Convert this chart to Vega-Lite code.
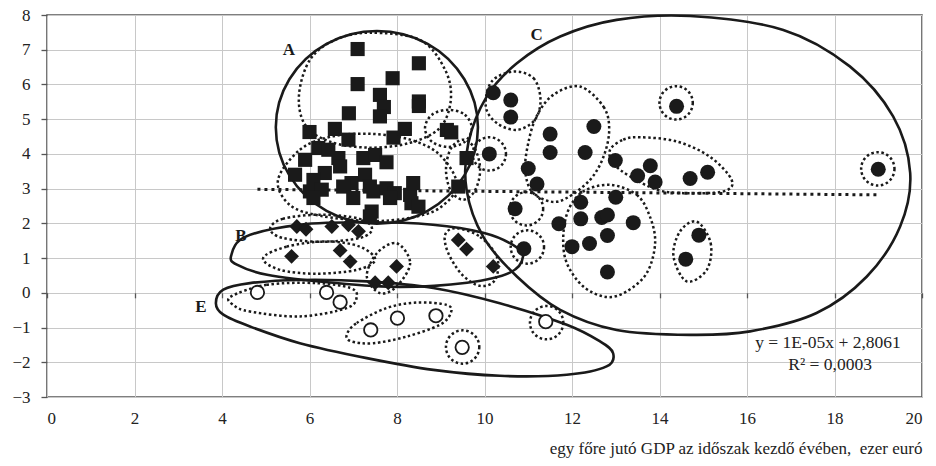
{
"$schema":"https://vega.github.io/schema/vega-lite/v6.json",
"width":875,"height":382,"autosize":{"type":"none"},
"padding":{"left":47,"top":15,"right":14,"bottom":69},
"background":"white",
"config":{"view":{"stroke":"#555","strokeWidth":1.6},"font":"Liberation Serif"},
"datasets":{
"pts":[
{"g":"sq","x":7.10,"y":7.02},{"g":"sq","x":8.50,"y":6.61},{"g":"sq","x":7.90,"y":6.18},{"g":"sq","x":7.10,"y":6.01},{"g":"sq","x":7.61,"y":5.70},{"g":"sq","x":7.70,"y":5.35},{"g":"sq","x":8.50,"y":5.51},{"g":"sq","x":8.50,"y":5.38},{"g":"sq","x":7.61,"y":5.08},{"g":"sq","x":6.90,"y":5.17},{"g":"sq","x":6.00,"y":4.63},{"g":"sq","x":6.58,"y":4.72},{"g":"sq","x":6.89,"y":4.41},{"g":"sq","x":7.92,"y":4.47},{"g":"sq","x":8.18,"y":4.72},{"g":"sq","x":9.14,"y":4.69},{"g":"sq","x":9.24,"y":4.62},
{"g":"sq","x":6.20,"y":4.17},{"g":"sq","x":6.43,"y":4.12},{"g":"sq","x":5.90,"y":3.83},{"g":"sq","x":6.66,"y":3.88},{"g":"sq","x":6.70,"y":3.64},{"g":"sq","x":7.23,"y":3.88},{"g":"sq","x":7.50,"y":3.97},{"g":"sq","x":7.76,"y":3.76},{"g":"sq","x":9.59,"y":3.88},{"g":"sq","x":5.67,"y":3.40},{"g":"sq","x":6.35,"y":3.45},{"g":"sq","x":6.09,"y":3.25},{"g":"sq","x":7.27,"y":3.40},{"g":"sq","x":6.96,"y":3.16},{"g":"sq","x":6.77,"y":3.06},{"g":"sq","x":6.01,"y":2.92},{"g":"sq","x":6.28,"y":2.97},{"g":"sq","x":6.09,"y":2.73},{"g":"sq","x":7.00,"y":2.73},{"g":"sq","x":7.38,"y":3.06},{"g":"sq","x":7.46,"y":2.92},{"g":"sq","x":7.76,"y":3.01},{"g":"sq","x":7.95,"y":2.87},{"g":"sq","x":8.30,"y":2.82},{"g":"sq","x":8.37,"y":3.16},{"g":"sq","x":8.33,"y":2.58},{"g":"sq","x":8.49,"y":2.48},{"g":"sq","x":7.42,"y":2.34},{"g":"sq","x":7.38,"y":2.20},{"g":"sq","x":9.40,"y":3.06},{"g":"sq","x":7.84,"y":2.73},
{"g":"di","x":5.71,"y":1.91},{"g":"di","x":5.92,"y":1.83},{"g":"di","x":6.51,"y":1.91},{"g":"di","x":6.89,"y":1.96},{"g":"di","x":7.12,"y":1.77},{"g":"di","x":5.59,"y":1.05},{"g":"di","x":6.70,"y":1.22},{"g":"di","x":6.93,"y":0.90},{"g":"di","x":7.99,"y":0.76},{"g":"di","x":7.50,"y":0.29},{"g":"di","x":7.80,"y":0.29},{"g":"di","x":9.40,"y":1.52},{"g":"di","x":9.59,"y":1.26},{"g":"di","x":10.20,"y":0.76},
{"g":"ci","x":10.20,"y":5.76},{"g":"ci","x":10.60,"y":5.55},{"g":"ci","x":10.60,"y":5.06},{"g":"ci","x":14.39,"y":5.37},{"g":"ci","x":12.50,"y":4.79},{"g":"ci","x":11.50,"y":4.57},{"g":"ci","x":11.50,"y":4.04},{"g":"ci","x":12.30,"y":4.04},{"g":"ci","x":10.11,"y":4.00},{"g":"ci","x":11.00,"y":3.58},{"g":"ci","x":11.20,"y":3.13},{"g":"ci","x":12.99,"y":3.81},{"g":"ci","x":13.79,"y":3.66},{"g":"ci","x":13.50,"y":3.37},{"g":"ci","x":13.90,"y":3.19},{"g":"ci","x":14.70,"y":3.29},{"g":"ci","x":15.10,"y":3.47},{"g":"ci","x":10.70,"y":2.42},{"g":"ci","x":12.20,"y":2.61},{"g":"ci","x":13.00,"y":2.75},{"g":"ci","x":12.20,"y":2.13},{"g":"ci","x":12.68,"y":2.17},{"g":"ci","x":12.81,"y":2.24},{"g":"ci","x":13.40,"y":2.02},{"g":"ci","x":11.70,"y":1.99},{"g":"ci","x":12.81,"y":1.65},{"g":"ci","x":12.00,"y":1.33},{"g":"ci","x":12.40,"y":1.42},{"g":"ci","x":12.81,"y":0.60},{"g":"ci","x":10.90,"y":1.27},{"g":"ci","x":14.90,"y":1.66},{"g":"ci","x":14.60,"y":0.97},{"g":"ci","x":19.00,"y":3.56},
{"g":"oc","x":4.81,"y":0.01},{"g":"oc","x":6.39,"y":0.01},{"g":"oc","x":6.70,"y":-0.27},{"g":"oc","x":7.40,"y":-1.07},{"g":"oc","x":8.01,"y":-0.73},{"g":"oc","x":8.89,"y":-0.66},{"g":"oc","x":9.49,"y":-1.57},{"g":"oc","x":11.40,"y":-0.83}
],
"rings":[{"x":10.11,"y":4.00},{"x":14.38,"y":5.47},{"x":10.96,"y":2.42},{"x":18.99,"y":3.57},{"x":10.98,"y":1.32},{"x":9.50,"y":-1.56},{"x":11.42,"y":-0.86}],
"trend":[{"x":4.81,"y":2.98},{"x":19.0,"y":2.82}],
"letters":[{"t":"A","x":5.53,"y":6.98},{"t":"B","x":4.43,"y":1.63},{"t":"C","x":11.19,"y":7.43},{"t":"E","x":3.52,"y":-0.42}],
"eq":[{"t":"y = 1E-05x + 2,8061","x":17.85,"y":-1.44},{"t":"R² = 0,0003","x":17.9,"y":-2.07}],
"outlines":[
{"s":"A","t":"solid","i":0,"x":7.54,"y":7.54},{"s":"A","t":"solid","i":1,"x":8.70,"y":7.17},{"s":"A","t":"solid","i":2,"x":9.54,"y":6.15},{"s":"A","t":"solid","i":3,"x":9.85,"y":4.77},{"s":"A","t":"solid","i":4,"x":9.54,"y":3.38},{"s":"A","t":"solid","i":5,"x":8.70,"y":2.36},{"s":"A","t":"solid","i":6,"x":7.54,"y":1.99},{"s":"A","t":"solid","i":7,"x":6.39,"y":2.36},{"s":"A","t":"solid","i":8,"x":5.54,"y":3.38},{"s":"A","t":"solid","i":9,"x":5.23,"y":4.77},{"s":"A","t":"solid","i":10,"x":5.54,"y":6.15},{"s":"A","t":"solid","i":11,"x":6.39,"y":7.17},
{"s":"C","t":"solid","i":0,"x":14.70,"y":7.97},{"s":"C","t":"solid","i":1,"x":16.83,"y":7.57},{"s":"C","t":"solid","i":2,"x":18.35,"y":6.52},{"s":"C","t":"solid","i":3,"x":19.34,"y":5.08},{"s":"C","t":"solid","i":4,"x":19.73,"y":3.45},{"s":"C","t":"solid","i":5,"x":19.50,"y":1.91},{"s":"C","t":"solid","i":6,"x":18.74,"y":0.47},{"s":"C","t":"solid","i":7,"x":17.59,"y":-0.58},{"s":"C","t":"solid","i":8,"x":16.07,"y":-1.11},{"s":"C","t":"solid","i":9,"x":14.70,"y":-1.21},{"s":"C","t":"solid","i":10,"x":13.02,"y":-1.07},{"s":"C","t":"solid","i":11,"x":11.73,"y":-0.49},{"s":"C","t":"solid","i":12,"x":10.74,"y":0.47},{"s":"C","t":"solid","i":13,"x":9.97,"y":1.62},{"s":"C","t":"solid","i":14,"x":9.59,"y":2.97},{"s":"C","t":"solid","i":15,"x":9.63,"y":4.31},{"s":"C","t":"solid","i":16,"x":10.05,"y":5.65},{"s":"C","t":"solid","i":17,"x":10.74,"y":6.61},{"s":"C","t":"solid","i":18,"x":11.73,"y":7.38},{"s":"C","t":"solid","i":19,"x":13.02,"y":7.86},
{"s":"B","t":"solid","i":0,"x":4.21,"y":1.07},{"s":"B","t":"solid","i":1,"x":4.53,"y":1.61},{"s":"B","t":"solid","i":2,"x":5.78,"y":1.96},{"s":"B","t":"solid","i":3,"x":7.31,"y":2.03},{"s":"B","t":"solid","i":4,"x":8.82,"y":1.96},{"s":"B","t":"solid","i":5,"x":9.97,"y":1.73},{"s":"B","t":"solid","i":6,"x":10.65,"y":1.38},{"s":"B","t":"solid","i":7,"x":10.88,"y":1.04},{"s":"B","t":"solid","i":8,"x":10.58,"y":0.58},{"s":"B","t":"solid","i":9,"x":9.60,"y":0.29},{"s":"B","t":"solid","i":10,"x":8.07,"y":0.17},{"s":"B","t":"solid","i":11,"x":6.54,"y":0.29},{"s":"B","t":"solid","i":12,"x":5.03,"y":0.52},{"s":"B","t":"solid","i":13,"x":4.34,"y":0.81},
{"s":"E","t":"solid","i":0,"x":3.86,"y":-0.30},{"s":"E","t":"solid","i":1,"x":4.03,"y":0.09},{"s":"E","t":"solid","i":2,"x":4.64,"y":0.28},{"s":"E","t":"solid","i":3,"x":5.78,"y":0.37},{"s":"E","t":"solid","i":4,"x":7.31,"y":0.33},{"s":"E","t":"solid","i":5,"x":8.83,"y":0.14},{"s":"E","t":"solid","i":6,"x":10.35,"y":-0.30},{"s":"E","t":"solid","i":7,"x":11.88,"y":-0.92},{"s":"E","t":"solid","i":8,"x":12.64,"y":-1.40},{"s":"E","t":"solid","i":9,"x":12.94,"y":-1.74},{"s":"E","t":"solid","i":10,"x":12.79,"y":-2.12},{"s":"E","t":"solid","i":11,"x":11.88,"y":-2.36},{"s":"E","t":"solid","i":12,"x":10.35,"y":-2.39},{"s":"E","t":"solid","i":13,"x":8.83,"y":-2.22},{"s":"E","t":"solid","i":14,"x":7.31,"y":-1.88},{"s":"E","t":"solid","i":15,"x":5.78,"y":-1.45},{"s":"E","t":"solid","i":16,"x":4.64,"y":-0.97},{"s":"E","t":"solid","i":17,"x":4.03,"y":-0.63},
{"s":"D1","t":"dot","i":0,"x":7.38,"y":7.49},{"s":"D1","t":"dot","i":1,"x":8.53,"y":7.28},{"s":"D1","t":"dot","i":2,"x":9.10,"y":6.42},{"s":"D1","t":"dot","i":3,"x":9.23,"y":5.56},{"s":"D1","t":"dot","i":4,"x":8.98,"y":4.75},{"s":"D1","t":"dot","i":5,"x":8.30,"y":4.32},{"s":"D1","t":"dot","i":6,"x":7.38,"y":4.18},{"s":"D1","t":"dot","i":7,"x":6.47,"y":4.35},{"s":"D1","t":"dot","i":8,"x":5.90,"y":4.84},{"s":"D1","t":"dot","i":9,"x":5.76,"y":5.70},{"s":"D1","t":"dot","i":10,"x":6.01,"y":6.71},{"s":"D1","t":"dot","i":11,"x":6.58,"y":7.28},
{"s":"D2","t":"dot","i":0,"x":5.28,"y":3.25},{"s":"D2","t":"dot","i":1,"x":5.78,"y":4.12},{"s":"D2","t":"dot","i":2,"x":6.47,"y":4.49},{"s":"D2","t":"dot","i":3,"x":7.38,"y":4.58},{"s":"D2","t":"dot","i":4,"x":8.30,"y":4.41},{"s":"D2","t":"dot","i":5,"x":8.98,"y":3.97},{"s":"D2","t":"dot","i":6,"x":9.37,"y":3.11},{"s":"D2","t":"dot","i":7,"x":8.98,"y":2.45},{"s":"D2","t":"dot","i":8,"x":8.30,"y":2.16},{"s":"D2","t":"dot","i":9,"x":7.38,"y":2.07},{"s":"D2","t":"dot","i":10,"x":6.24,"y":2.22},{"s":"D2","t":"dot","i":11,"x":5.55,"y":2.53},
{"s":"D3","t":"dot","i":0,"x":9.18,"y":5.27},{"s":"D3","t":"dot","i":1,"x":9.55,"y":5.13},{"s":"D3","t":"dot","i":2,"x":9.71,"y":4.74},{"s":"D3","t":"dot","i":3,"x":9.55,"y":4.35},{"s":"D3","t":"dot","i":4,"x":9.18,"y":4.20},{"s":"D3","t":"dot","i":5,"x":8.80,"y":4.35},{"s":"D3","t":"dot","i":6,"x":8.64,"y":4.74},{"s":"D3","t":"dot","i":7,"x":8.80,"y":5.13},
{"s":"D4","t":"dot","i":0,"x":9.51,"y":4.41},{"s":"D4","t":"dot","i":1,"x":9.78,"y":4.15},{"s":"D4","t":"dot","i":2,"x":9.90,"y":3.54},{"s":"D4","t":"dot","i":3,"x":9.78,"y":2.94},{"s":"D4","t":"dot","i":4,"x":9.51,"y":2.68},{"s":"D4","t":"dot","i":5,"x":9.23,"y":2.94},{"s":"D4","t":"dot","i":6,"x":9.12,"y":3.54},{"s":"D4","t":"dot","i":7,"x":9.23,"y":4.15},
{"s":"D5","t":"dot","i":0,"x":5.10,"y":1.84},{"s":"D5","t":"dot","i":1,"x":5.39,"y":2.13},{"s":"D5","t":"dot","i":2,"x":6.26,"y":2.25},{"s":"D5","t":"dot","i":3,"x":7.15,"y":2.13},{"s":"D5","t":"dot","i":4,"x":7.43,"y":1.84},{"s":"D5","t":"dot","i":5,"x":7.15,"y":1.58},{"s":"D5","t":"dot","i":6,"x":6.26,"y":1.47},{"s":"D5","t":"dot","i":7,"x":5.39,"y":1.58},
{"s":"D6","t":"dot","i":0,"x":4.94,"y":1.00},{"s":"D6","t":"dot","i":1,"x":5.48,"y":1.33},{"s":"D6","t":"dot","i":2,"x":6.39,"y":1.48},{"s":"D6","t":"dot","i":3,"x":7.15,"y":1.33},{"s":"D6","t":"dot","i":4,"x":7.50,"y":0.95},{"s":"D6","t":"dot","i":5,"x":7.08,"y":0.66},{"s":"D6","t":"dot","i":6,"x":6.16,"y":0.55},{"s":"D6","t":"dot","i":7,"x":5.33,"y":0.66},
{"s":"D7","t":"dot","i":0,"x":7.99,"y":1.43},{"s":"D7","t":"dot","i":1,"x":8.30,"y":0.86},{"s":"D7","t":"dot","i":2,"x":7.99,"y":0.18},{"s":"D7","t":"dot","i":3,"x":7.61,"y":-0.01},{"s":"D7","t":"dot","i":4,"x":7.31,"y":0.47},{"s":"D7","t":"dot","i":5,"x":7.54,"y":1.14},
{"s":"D8","t":"dot","i":0,"x":9.36,"y":1.86},{"s":"D8","t":"dot","i":1,"x":9.90,"y":1.61},{"s":"D8","t":"dot","i":2,"x":10.29,"y":1.01},{"s":"D8","t":"dot","i":3,"x":10.24,"y":0.37},{"s":"D8","t":"dot","i":4,"x":9.90,"y":0.20},{"s":"D8","t":"dot","i":5,"x":9.49,"y":0.52},{"s":"D8","t":"dot","i":6,"x":9.17,"y":1.15},{"s":"D8","t":"dot","i":7,"x":9.10,"y":1.67},
{"s":"D10","t":"dot","i":0,"x":4.20,"y":-0.11},{"s":"D10","t":"dot","i":1,"x":5.02,"y":0.23},{"s":"D10","t":"dot","i":2,"x":6.16,"y":0.28},{"s":"D10","t":"dot","i":3,"x":6.93,"y":0.14},{"s":"D10","t":"dot","i":4,"x":7.08,"y":-0.11},{"s":"D10","t":"dot","i":5,"x":6.85,"y":-0.44},{"s":"D10","t":"dot","i":6,"x":5.78,"y":-0.68},{"s":"D10","t":"dot","i":7,"x":4.64,"y":-0.54},{"s":"D10","t":"dot","i":8,"x":4.26,"y":-0.35},
{"s":"D11","t":"dot","i":0,"x":6.85,"y":-1.21},{"s":"D11","t":"dot","i":1,"x":7.08,"y":-0.87},{"s":"D11","t":"dot","i":2,"x":7.76,"y":-0.44},{"s":"D11","t":"dot","i":3,"x":8.45,"y":-0.28},{"s":"D11","t":"dot","i":4,"x":9.14,"y":-0.35},{"s":"D11","t":"dot","i":5,"x":9.23,"y":-0.58},{"s":"D11","t":"dot","i":6,"x":8.98,"y":-0.92},{"s":"D11","t":"dot","i":7,"x":8.22,"y":-1.26},{"s":"D11","t":"dot","i":8,"x":7.46,"y":-1.45},{"s":"D11","t":"dot","i":9,"x":6.96,"y":-1.40},
{"s":"D14","t":"dot","i":0,"x":10.66,"y":6.37},{"s":"D14","t":"dot","i":1,"x":11.12,"y":6.18},{"s":"D14","t":"dot","i":2,"x":11.28,"y":5.56},{"s":"D14","t":"dot","i":3,"x":11.15,"y":4.98},{"s":"D14","t":"dot","i":4,"x":10.74,"y":4.69},{"s":"D14","t":"dot","i":5,"x":10.28,"y":4.89},{"s":"D14","t":"dot","i":6,"x":10.03,"y":5.36},{"s":"D14","t":"dot","i":7,"x":10.16,"y":6.08},
{"s":"D16","t":"dot","i":0,"x":12.18,"y":5.94},{"s":"D16","t":"dot","i":1,"x":12.72,"y":5.36},{"s":"D16","t":"dot","i":2,"x":12.85,"y":4.69},{"s":"D16","t":"dot","i":3,"x":12.72,"y":3.92},{"s":"D16","t":"dot","i":4,"x":12.41,"y":3.25},{"s":"D16","t":"dot","i":5,"x":11.88,"y":2.73},{"s":"D16","t":"dot","i":6,"x":11.50,"y":2.63},{"s":"D16","t":"dot","i":7,"x":11.08,"y":2.92},{"s":"D16","t":"dot","i":8,"x":10.93,"y":3.54},{"s":"D16","t":"dot","i":9,"x":11.00,"y":4.31},{"s":"D16","t":"dot","i":10,"x":11.19,"y":5.08},{"s":"D16","t":"dot","i":11,"x":11.57,"y":5.70},
{"s":"D18","t":"dot","i":0,"x":12.87,"y":4.12},{"s":"D18","t":"dot","i":1,"x":13.17,"y":4.41},{"s":"D18","t":"dot","i":2,"x":13.55,"y":4.48},{"s":"D18","t":"dot","i":3,"x":14.39,"y":4.36},{"s":"D18","t":"dot","i":4,"x":15.15,"y":3.92},{"s":"D18","t":"dot","i":5,"x":15.65,"y":3.25},{"s":"D18","t":"dot","i":6,"x":15.46,"y":2.92},{"s":"D18","t":"dot","i":7,"x":14.54,"y":2.87},{"s":"D18","t":"dot","i":8,"x":13.94,"y":2.97},{"s":"D18","t":"dot","i":9,"x":13.33,"y":3.35},{"s":"D18","t":"dot","i":10,"x":12.94,"y":3.73},
{"s":"D20","t":"dot","i":0,"x":12.87,"y":3.11},{"s":"D20","t":"dot","i":1,"x":13.48,"y":2.82},{"s":"D20","t":"dot","i":2,"x":13.78,"y":2.20},{"s":"D20","t":"dot","i":3,"x":13.90,"y":1.43},{"s":"D20","t":"dot","i":4,"x":13.71,"y":0.57},{"s":"D20","t":"dot","i":5,"x":13.25,"y":0.04},{"s":"D20","t":"dot","i":6,"x":12.79,"y":-0.12},{"s":"D20","t":"dot","i":7,"x":12.26,"y":0.18},{"s":"D20","t":"dot","i":8,"x":11.88,"y":0.86},{"s":"D20","t":"dot","i":9,"x":11.80,"y":1.62},{"s":"D20","t":"dot","i":10,"x":11.92,"y":2.39},{"s":"D20","t":"dot","i":11,"x":12.26,"y":2.92},
{"s":"D21","t":"dot","i":0,"x":14.85,"y":2.05},{"s":"D21","t":"dot","i":1,"x":15.17,"y":1.43},{"s":"D21","t":"dot","i":2,"x":15.08,"y":0.66},{"s":"D21","t":"dot","i":3,"x":14.62,"y":0.33},{"s":"D21","t":"dot","i":4,"x":14.32,"y":1.05},{"s":"D21","t":"dot","i":5,"x":14.47,"y":1.77}
]
},
"encoding":{
"x":{"field":"x","type":"quantitative","scale":{"domain":[0,20],"nice":false,"zero":false},
 "axis":{"values":[0,2,4,6,8,10,12,14,16,18,20],"grid":true,"gridColor":"#c8c8c8","gridWidth":1,"domain":false,"ticks":false,"labelPadding":13,"labelFont":"Liberation Serif","labelFontSize":17,"labelColor":"#222",
  "title":"egy főre jutó GDP az időszak kezdő évében, \u00a0ezer euró","titleFont":"Liberation Serif","titleFontSize":17,"titleFontWeight":"normal","titleColor":"#222","titleAnchor":"end","titleAlign":"right","titleBaseline":"alphabetic","titleX":875,"titleY":56}},
"y":{"field":"y","type":"quantitative","scale":{"domain":[-3,8],"nice":false,"zero":false},
 "axis":{"values":[-3,-2,-1,0,1,2,3,4,5,6,7,8],"grid":true,"gridColor":"#c8c8c8","gridWidth":1,"domain":false,"ticks":true,"tickSize":6,"tickColor":"#555","tickWidth":1.3,"labelPadding":11,"labelFont":"Liberation Serif","labelFontSize":17,"labelColor":"#222","title":null}}
},
"resolve":{"axis":{"x":"independent"}},
"layer":[
{"layer":[
{"data":{"name":"outlines"},"transform":[{"filter":"datum.t==='solid'"}],"mark":{"type":"line","interpolate":"cardinal-closed","color":"#1a1a1a","strokeWidth":2.6},"encoding":{"detail":{"field":"s"},"order":{"field":"i","type":"quantitative"}}},
{"data":{"name":"outlines"},"transform":[{"filter":"datum.t==='dot'"}],"mark":{"type":"line","interpolate":"cardinal-closed","color":"#1a1a1a","strokeWidth":2.5,"strokeDash":[2.5,2.6]},"encoding":{"detail":{"field":"s"},"order":{"field":"i","type":"quantitative"}}},
{"data":{"name":"rings"},"mark":{"type":"point","shape":"circle","filled":false,"size":1110,"stroke":"#1a1a1a","strokeWidth":2.5,"strokeDash":[2.5,2.6],"opacity":1}},
{"data":{"name":"trend"},"mark":{"type":"line","color":"#1a1a1a","strokeWidth":3,"strokeDash":[3,4]}},
{"data":{"name":"pts"},"transform":[{"filter":"datum.g==='sq'"}],"mark":{"type":"point","shape":"square","filled":true,"size":200,"color":"#1a1a1a","opacity":1}},
{"data":{"name":"pts"},"transform":[{"filter":"datum.g==='di'"}],"mark":{"type":"point","shape":"diamond","filled":true,"size":220,"color":"#1a1a1a","opacity":1}},
{"data":{"name":"pts"},"transform":[{"filter":"datum.g==='ci'"}],"mark":{"type":"point","shape":"circle","filled":true,"size":225,"color":"#1a1a1a","opacity":1}},
{"data":{"name":"pts"},"transform":[{"filter":"datum.g==='oc'"}],"mark":{"type":"point","shape":"circle","size":180,"fill":"white","stroke":"#1a1a1a","strokeWidth":1.8,"opacity":1}},
{"data":{"name":"letters"},"mark":{"type":"text","font":"Liberation Serif","fontSize":17,"fontWeight":"bold","color":"#1a1a1a","align":"center","baseline":"middle"},"encoding":{"text":{"field":"t"}}},
{"data":{"name":"eq"},"mark":{"type":"text","font":"Liberation Serif","fontSize":17.5,"color":"#222","align":"center","baseline":"middle"},"encoding":{"text":{"field":"t"}}}
]},
{"data":{"values":[{}]},"mark":{"type":"rule","color":"#555","strokeWidth":1.6},
 "encoding":{"x":{"datum":0,"type":"quantitative","axis":{"orient":"bottom","offset":-104.2,"values":[0,2,4,6,8,10,12,14,16,18,20],"labels":false,"grid":false,"domain":false,"ticks":true,"tickSize":5,"tickColor":"#555","tickWidth":1.3,"title":null}},"x2":{"datum":20},"y":{"datum":0}}}
]
}
